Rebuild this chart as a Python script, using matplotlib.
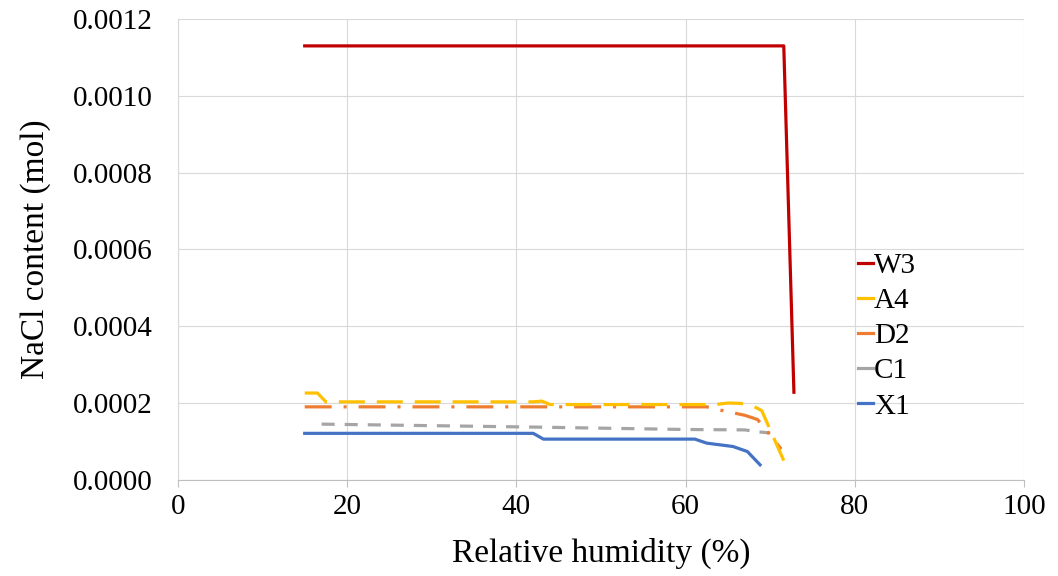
import matplotlib
matplotlib.use("Agg")
import matplotlib.pyplot as plt
from matplotlib.lines import Line2D
from matplotlib.ticker import FormatStrFormatter

plt.rcParams['font.family'] = ['Liberation Serif', 'DejaVu Serif']
plt.rcParams['lines.scale_dashes'] = False

# data
w3_x = [15, 71.6, 72.8]
w3_y = [0.00113, 0.00113, 0.000228]

a4_x = [15, 16.5, 17.5, 42, 43, 44, 63.5, 65, 66.5, 68, 69, 71.6]
a4_y = [0.000226, 0.000226, 0.000203, 0.000203, 0.000205, 0.000196,
        0.000196, 0.0002, 0.000199, 0.000192, 0.00018, 0.00005]

d2_x = [15, 62.5, 64, 67, 68.5, 69.5, 71.3]
d2_y = [0.00019, 0.00019, 0.000182, 0.000168, 0.000157, 0.00013, 0.00008]

c1_x = [17, 30, 43, 60, 67, 68.5, 70]
c1_y = [0.000145, 0.000141, 0.000137, 0.000131, 0.00013, 0.000125, 0.000122]

x1_x = [15, 42, 43.2, 61.1, 62.5, 65.6, 67.3, 68.8]
x1_y = [0.000121, 0.000121, 0.000106, 0.000106, 0.0000955, 0.0000867,
        0.0000737, 0.000039]

names = ["W3", "A4", "D2", "C1", "X1"]
colors = ["#C00000", "#FFC000", "#ED7D31", "#A5A5A5", "#4472C4"]

fig = plt.figure(figsize=(10.58, 5.76), dpi=100)
ax = fig.add_axes([0.168, 0.167, 0.80, 0.800])

lw = 2.3
ax.plot(w3_x, w3_y, color=colors[0], lw=lw, zorder=5)
ax.plot(x1_x, x1_y, color=colors[4], lw=lw, zorder=4)
ax.plot(c1_x, c1_y, color=colors[3], lw=lw, dashes=(9.4, 7.2), zorder=4)
ax.plot(d2_x, d2_y, color=colors[2], lw=lw, dashes=(19.4, 8.6, 2.2, 8.6), zorder=4)
ax.plot(a4_x, a4_y, color=colors[1], lw=lw, dashes=(18.7, 8.6), zorder=4)

ax.set_xlim(0, 100)
ax.set_ylim(0, 0.0012)
ax.set_xticks([0, 20, 40, 60, 80, 100])
ax.set_yticks([0, 0.0002, 0.0004, 0.0006, 0.0008, 0.0010, 0.0012])
ax.yaxis.set_major_formatter(FormatStrFormatter('%.4f'))
ax.grid(True, color='#D9D9D9', lw=0.8)
ax.set_axisbelow(True)
for s in ['top', 'right']:
    ax.spines[s].set_visible(False)
ax.spines['left'].set_color('#D9D9D9')
ax.spines['bottom'].set_color('#BFBFBF')
ax.tick_params(axis='x', length=5, color='#BFBFBF', labelsize=21, pad=5)
ax.tick_params(axis='y', length=0, labelsize=21, pad=18)

ax.set_xlabel("Relative humidity (%)", fontsize=24, labelpad=13)
ax.set_ylabel("NaCl content (mol)", fontsize=24, labelpad=16)

handles = [Line2D([0], [0], color=c, lw=lw) for c in colors]
fig.legend(handles, names, loc='upper left', bbox_to_anchor=(0.800, 0.582),
           frameon=False, fontsize=21, handlelength=0.5, handletextpad=0.05,
           labelspacing=0.3, borderaxespad=0)

fig.savefig("out.png", dpi=100)
